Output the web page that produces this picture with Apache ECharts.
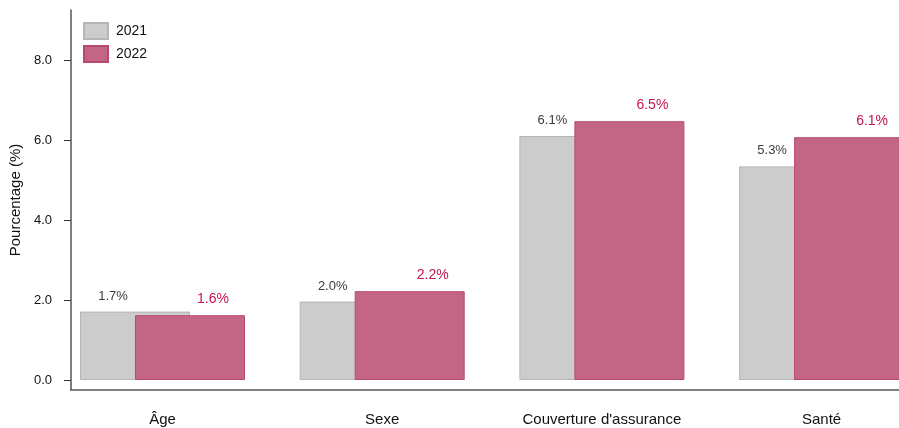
<!DOCTYPE html>
<html>
<head>
<meta charset="utf-8">
<script src="https://cdn.jsdelivr.net/npm/echarts@6/dist/echarts.min.js"></script>
<style>html,body{margin:0;padding:0;background:#fff;overflow:hidden}#c{width:940px;height:428px}</style>
</head>
<body>
<div id="c"></div>
<script>
const categories = ['Âge', 'Sexe', "Couverture d'assurance", 'Santé'];
const values2021 = [1.71, 1.96, 6.10, 5.34];
const values2022 = [1.62, 2.22, 6.47, 6.07];
const yTicks = [0, 2, 4, 6, 8];

const FONT = "'Liberation Sans', Arial, sans-serif";
const chart = echarts.init(document.getElementById('c'), null, {renderer: 'canvas'});
const yRange = {min: -0.25, max: 9.25};

chart.setOption({
  backgroundColor: '#ffffff',
  animation: false,
  textStyle: {fontFamily: FONT},
  legend: {
    left: 83, top: 22, orient: 'vertical', itemWidth: 24, itemHeight: 16, itemGap: 5, padding: 0,
    icon: 'rect',
    textStyle: {fontFamily: FONT, fontSize: 14, color: '#111', padding: [0, 0, 0, 3]},
    data: ['2021', '2022']
  },
  grid: [
    {left: 52.65, width: 878.8, top: 10, bottom: 38, containLabel: false},
    {left: 70, right: 41, top: 10, bottom: 38, containLabel: false}
  ],
  xAxis: [
    {
      type: 'category', gridIndex: 0, data: categories,
      axisLine: {show: false, onZero: false}, axisTick: {show: false},
      axisLabel: {fontFamily: FONT, fontSize: 15, color: '#111', margin: 22, interval: 0}
    },
    {
      type: 'value', gridIndex: 1, min: 0, max: 1,
      axisLine: {show: true, onZero: false, lineStyle: {color: '#555', width: 1.5}},
      axisTick: {show: false}, axisLabel: {show: false}, splitLine: {show: false}
    }
  ],
  yAxis: [
    {
      type: 'value', gridIndex: 0, min: yRange.min, max: yRange.max,
      axisLine: {show: false}, axisTick: {show: false}, axisLabel: {show: false}, splitLine: {show: false}
    },
    {
      type: 'value', gridIndex: 1, min: yRange.min, max: yRange.max,
      name: 'Pourcentage (%)', nameLocation: 'middle', nameGap: 42,
      nameTextStyle: {fontFamily: FONT, fontSize: 15, color: '#111'},
      axisLine: {show: true, onZero: false, lineStyle: {color: '#555', width: 1.5}},
      axisTick: {show: true, length: 7, customValues: yTicks, lineStyle: {color: '#333'}},
      axisLabel: {show: true, customValues: yTicks, margin: 19, fontFamily: FONT, fontSize: 13, color: '#111',
        formatter: v => v.toFixed(1)},
      splitLine: {show: false}
    }
  ],
  series: [
    {
      name: '2021', type: 'bar', xAxisIndex: 0, yAxisIndex: 0,
      data: values2021, barWidth: 110, barGap: '-50%',
      itemStyle: {color: '#cccccc', borderColor: '#b5b5b5', borderWidth: 1},
      label: {show: true, position: 'top', distance: 9, offset: [-22, 0],
        fontFamily: FONT, fontSize: 13, color: '#3a3a3a', formatter: p => p.value.toFixed(1) + '%'}
    },
    {
      name: '2022', type: 'bar', xAxisIndex: 0, yAxisIndex: 0,
      data: values2022, barWidth: 110, barGap: '-50%',
      itemStyle: {color: '#c36584', borderColor: '#b84a6f', borderWidth: 1},
      label: {show: true, position: 'top', distance: 9, offset: [23, 0],
        fontFamily: FONT, fontSize: 14, color: '#c4164f', formatter: p => p.value.toFixed(1) + '%'}
    }
  ]
});
</script>
</body>
</html>
